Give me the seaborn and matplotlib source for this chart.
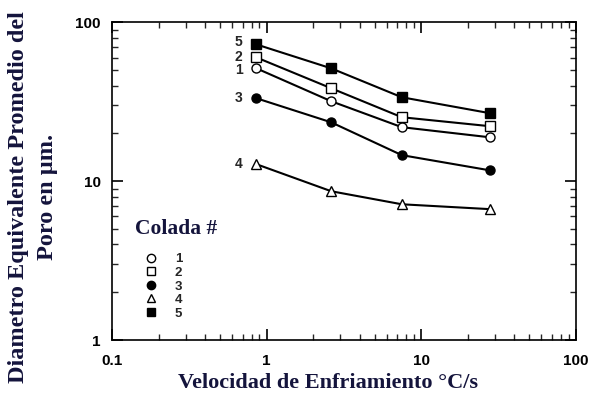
import matplotlib
matplotlib.use("Agg")
import matplotlib.pyplot as plt
from matplotlib.lines import Line2D
from matplotlib.ticker import LogLocator, NullFormatter, FixedLocator, FixedFormatter
import seaborn as sns
import pandas as pd

sns.set_theme(style="ticks")
plt.rcParams['font.family'] = ['Liberation Sans', 'DejaVu Sans']

rate = [0.86, 2.62, 7.5, 28]
colada1 = [51.4, 31.9, 21.9, 18.9]
colada2 = [60.2, 38.5, 25.3, 22.2]
colada3 = [33.3, 23.5, 14.6, 11.7]
colada4 = [12.8, 8.65, 7.16, 6.67]
colada5 = [72.7, 51.4, 33.8, 26.8]
series_names = ["1", "2", "3", "4", "5"]
x_ticks = [0.1, 1, 10, 100]
x_tick_labels = ["0.1", "1", "10", "100"]
y_ticks = [1, 10, 100]
y_tick_labels = ["1", "10", "100"]

values = [colada1, colada2, colada3, colada4, colada5]
rows = []
for name, vals in zip(series_names, values):
    for x, y in zip(rate, vals):
        rows.append({"colada": name, "rate": x, "d": y})
df = pd.DataFrame(rows)

styles = {
    "1": dict(marker="o", markerfacecolor="white"),
    "2": dict(marker="s", markerfacecolor="white"),
    "3": dict(marker="o", markerfacecolor="black"),
    "4": dict(marker="^", markerfacecolor="white"),
    "5": dict(marker="s", markerfacecolor="black"),
}
label_offsets = {"1": -1.5, "2": 0.0, "3": 0.0, "4": 0.0, "5": 1.5}

fig = plt.figure(figsize=(5.9, 3.94), dpi=100)
ax = fig.add_axes([0.1898, 0.137, 0.786, 0.806])

for name in series_names:
    sub = df[df["colada"] == name]
    sns.lineplot(data=sub, x="rate", y="d", ax=ax, color="black", lw=1.5,
                 markersize=6.5, markeredgecolor="black", markeredgewidth=1.0,
                 **styles[name])

ax.set_xscale("log")
ax.set_yscale("log")
ax.set_xlim(0.1, 100)
ax.set_ylim(1, 100)

ax.xaxis.set_major_locator(FixedLocator(x_ticks))
ax.xaxis.set_major_formatter(FixedFormatter(x_tick_labels))
ax.yaxis.set_major_locator(FixedLocator(y_ticks))
ax.yaxis.set_major_formatter(FixedFormatter(y_tick_labels))
ax.xaxis.set_minor_locator(LogLocator(base=10, subs=range(2, 10)))
ax.yaxis.set_minor_locator(LogLocator(base=10, subs=range(2, 10)))
ax.xaxis.set_minor_formatter(NullFormatter())
ax.yaxis.set_minor_formatter(NullFormatter())
ax.tick_params(which="major", direction="in", length=8, width=1.2,
               top=True, right=True, labelsize=11, colors="black")
ax.tick_params(axis="x", which="major", pad=10)
ax.tick_params(axis="y", which="major", pad=8)
ax.tick_params(which="minor", direction="in", length=4.5, width=1.0,
               top=True, right=True)
for lab in ax.get_xticklabels() + ax.get_yticklabels():
    lab.set_fontweight("bold")
for sp in ax.spines.values():
    sp.set_linewidth(1.2)
    sp.set_color("black")

navy = "#14143c"
xlab = ax.set_xlabel("Velocidad de Enfriamiento °C/s", family=["Liberation Serif", "DejaVu Serif"],
                     fontweight="bold", fontsize=16, color=navy)
ax.xaxis.set_label_coords(0.466, -0.135)
xlab.set_va("center")
ylab = ax.set_ylabel("Diametro Equivalente Promedio del\nPoro en µm.",
                     family=["Liberation Serif", "DejaVu Serif"],
                     fontweight="bold", fontsize=17.5, color=navy,
                     linespacing=1.5)
ylab.set_multialignment("center")
ax.yaxis.set_label_coords(-0.17, 0.45)
ylab.set_va("center")

# series labels at start of each curve
for name, vals in zip(series_names, values):
    ax.annotate(name, xy=(rate[0], vals[0]), xytext=(-10, label_offsets[name]),
                textcoords="offset points",
                ha="right", va="center", fontsize=10, fontweight="bold")

handles = [Line2D([], [], linestyle="none", color="black", markeredgecolor="black",
                  markersize=6, **styles[n]) for n in series_names]
leg = ax.legend(handles, series_names, title="Colada #", loc="lower left",
                bbox_to_anchor=(0.03, 0.035), frameon=False, handlelength=2.4,
                handletextpad=0.6, labelspacing=0.1, borderpad=0.2,
                prop=dict(family="Liberation Sans", weight="bold", size=9.5))
leg.get_title().set_fontfamily("Liberation Serif")
leg.get_title().set_fontweight("bold")
leg.get_title().set_fontsize(15.5)
leg.get_title().set_color(navy)
leg._legend_box.align = "left"
leg._legend_box.sep = 10

ax.set_facecolor("white")
fig.patch.set_facecolor("white")
fig.savefig("out.png", dpi=100)
